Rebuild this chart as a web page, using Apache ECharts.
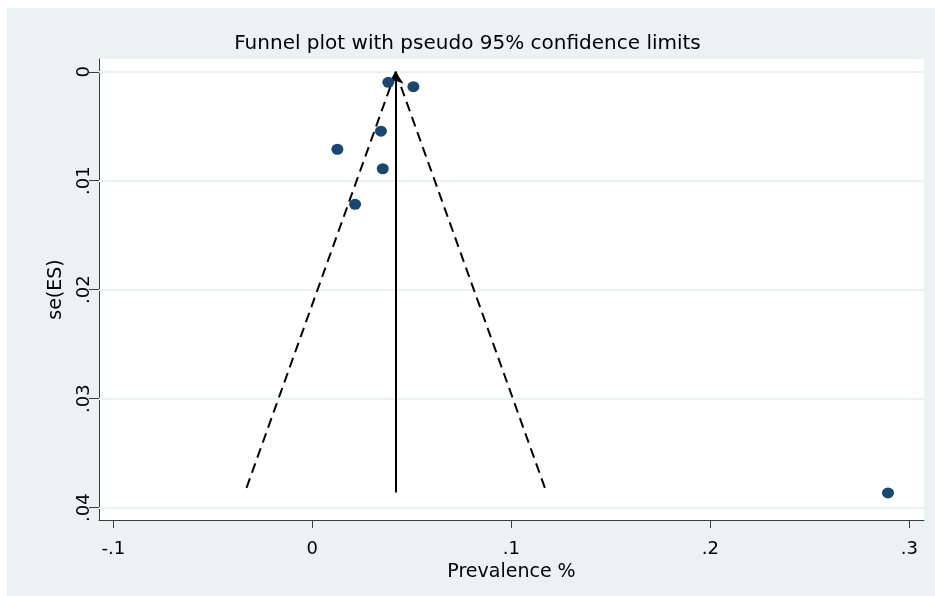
<!DOCTYPE html>
<html>
<head>
<meta charset="utf-8">
<script src="https://cdn.jsdelivr.net/npm/echarts@6/dist/echarts.min.js"></script>
<style>
html,body{margin:0;padding:0;background:#fff;}
#chart{width:935px;height:596px;}
</style>
</head>
<body>
<div id="chart"></div>
<script>
// Study estimates: [effect size (prevalence), se(ES)]
const studyPoints = [
  [0.0382, 0.00097],
  [0.0508, 0.00137],
  [0.0345, 0.00545],
  [0.0126, 0.00711],
  [0.0354, 0.00890],
  [0.0215, 0.01216],
  [0.2893, 0.03865]
];
// Pooled estimate line (from largest se up to se = 0)
const pooledLine = [[0.0419, 0.0386], [0.0419, 0]];
// Pseudo 95% confidence limits
const lowerLimit = [[0.0419, 0], [-0.0337, 0.0385]];
const upperLimit = [[0.0419, 0], [0.1175, 0.0385]];
// Tick labels
const xTicks = [-0.1, 0, 0.1, 0.2, 0.3];
const yTicks = [0, 0.01, 0.02, 0.03, 0.04];
const xRange = [-0.1072, 0.3074];
const yRange = [-0.00117, 0.04113];

function fmt(v) {
  if (Math.abs(v) < 1e-12) return '0';
  let s = String(Math.round(v * 1e6) / 1e6);
  return s.replace(/^(-?)0\./, '$1.');
}

const FONT = 'DejaVu Sans';
const chart = echarts.init(document.getElementById('chart'), null, {renderer: 'canvas'});
chart.setOption({
  animation: false,
  backgroundColor: '#eaf2f3',
  graphic: [
    {type: 'rect', left: 0, top: 0, shape: {width: 935, height: 8}, style: {fill: '#ffffff'}, silent: true},
    {type: 'rect', left: 0, top: 0, shape: {width: 7, height: 596}, style: {fill: '#ffffff'}, silent: true}
  ],
  title: {
    text: 'Funnel plot with pseudo 95% confidence limits',
    left: 'center',
    top: 34,
    padding: 0,
    textStyle: {fontFamily: FONT, fontSize: 20, fontWeight: 'normal', color: '#000'}
  },
  grid: {
    left: 99, right: 11, top: 59, bottom: 76,
    show: true, backgroundColor: '#ffffff', borderWidth: 0
  },
  xAxis: {
    type: 'value',
    min: xRange[0], max: xRange[1],
    name: 'Prevalence %',
    nameLocation: 'middle',
    nameGap: 42,
    nameTextStyle: {fontFamily: FONT, fontSize: 19, color: '#000'},
    axisLine: {show: true, onZero: false, lineStyle: {color: '#3c3c3c', width: 1}},
    axisTick: {show: true, length: 8, customValues: xTicks, lineStyle: {color: '#3c3c3c'}},
    axisLabel: {customValues: xTicks, formatter: fmt, margin: 20, fontFamily: FONT, fontSize: 18, color: '#000'},
    splitLine: {show: false}
  },
  yAxis: {
    type: 'value',
    inverse: true,
    min: yRange[0], max: yRange[1],
    name: 'se(ES)',
    nameLocation: 'middle',
    nameGap: 33,
    nameTextStyle: {fontFamily: FONT, fontSize: 19, color: '#000'},
    axisLine: {show: true, onZero: false, lineStyle: {color: '#3c3c3c', width: 1}},
    axisTick: {show: true, length: 10, customValues: yTicks, lineStyle: {color: '#3c3c3c'}},
    axisLabel: {customValues: yTicks, formatter: fmt, rotate: 90, margin: 6, fontFamily: FONT, fontSize: 18, color: '#000'},
    splitLine: {show: false}
  },
  series: [
    {
      type: 'lines',
      coordinateSystem: 'cartesian2d',
      z: 1,
      silent: true,
      symbol: ['none', 'none'],
      lineStyle: {color: '#eaf2f3', width: 2, type: 'solid', opacity: 1},
      data: yTicks.map(v => ({coords: [[xRange[0], v], [xRange[1], v]]}))
    },
    {
      type: 'lines',
      coordinateSystem: 'cartesian2d',
      z: 3,
      symbol: ['none', 'none'],
      lineStyle: {color: '#000', width: 2, type: [10, 6], opacity: 1},
      data: [{coords: lowerLimit}, {coords: upperLimit}]
    },
    {
      type: 'lines',
      coordinateSystem: 'cartesian2d',
      z: 3,
      symbol: ['none', 'arrow'],
      symbolSize: [8, 12],
      lineStyle: {color: '#000', width: 2, type: 'solid', opacity: 1},
      data: [{coords: pooledLine}]
    },
    {
      type: 'scatter',
      z: 4,
      symbol: 'circle',
      symbolSize: [12, 11],
      itemStyle: {color: '#1a476f', opacity: 1},
      data: studyPoints
    }
  ]
});
</script>
</body>
</html>
